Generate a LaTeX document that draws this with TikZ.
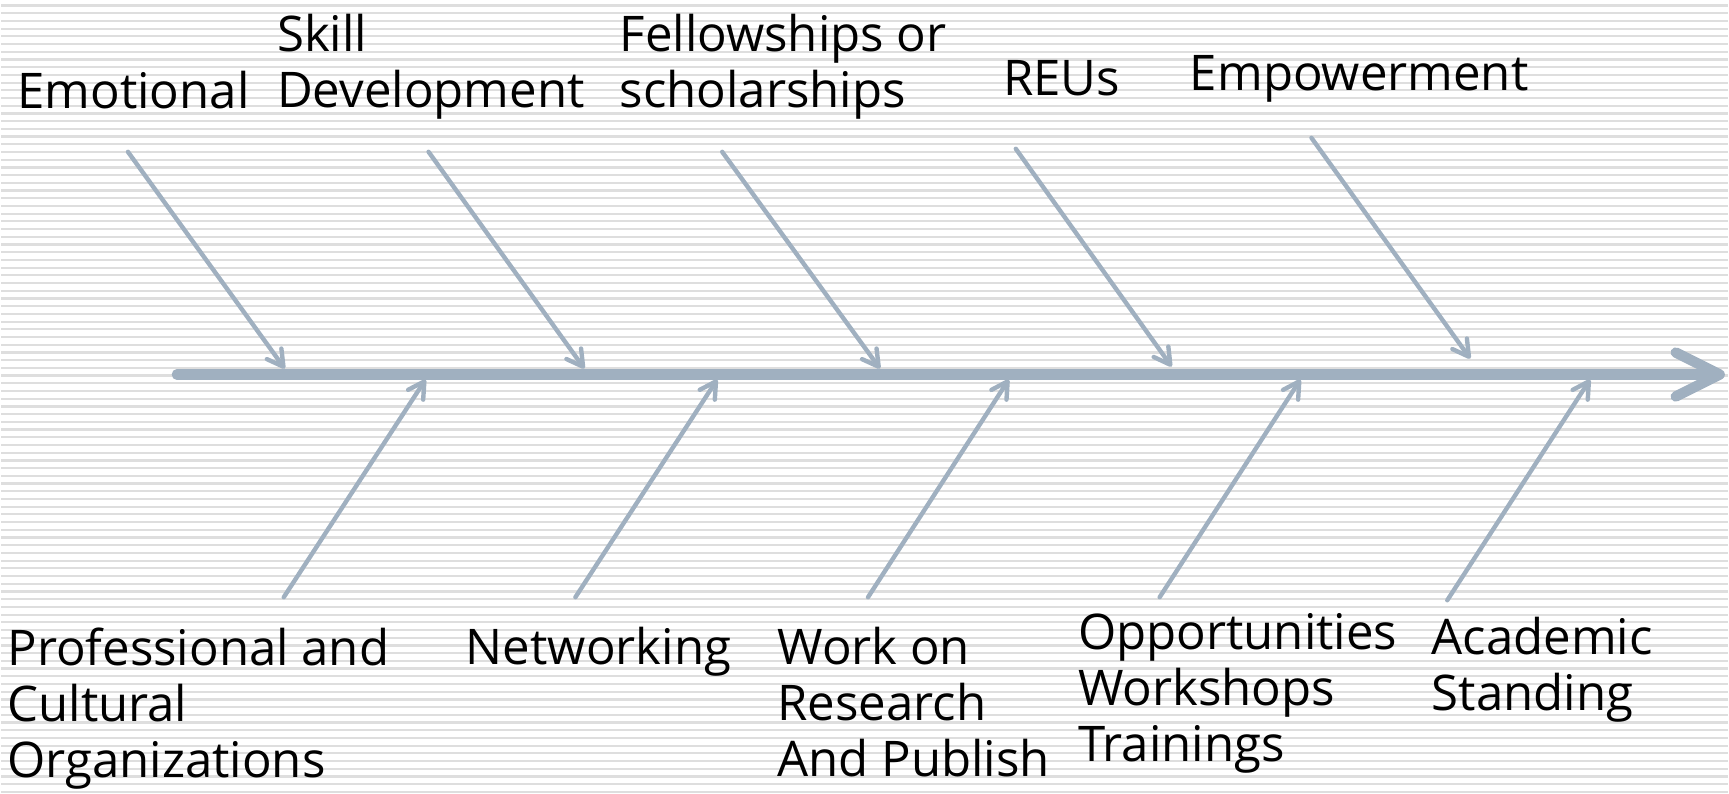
\documentclass[tikz,border=0pt]{standalone}
\usepackage{fontspec}
\setmainfont{Open Sans}
\usetikzlibrary{arrows.meta}
\definecolor{bonecol}{RGB}{160,176,192}
\definecolor{stripecol}{RGB}{222,222,222}

\begin{document}
\begin{tikzpicture}[x=0.5pt,y=-0.5pt,
    cause/.style={anchor=north west,inner sep=0pt,align=left,font=\fontsize{24.6}{28}\selectfont},
    bone/.style={bonecol,line width=2.2pt,line cap=round,-{Straight Barb[length=8pt,width=9pt,round]}},
    spine/.style={bonecol,line width=5.2pt,line cap=round,-{Straight Barb[length=22pt,width=22pt,round]}}]
			\fill[white] (0,0) rectangle (1729,791);
			\foreach \k in {0,...,102}
				\draw[stripecol,line width=1.1pt] (0,5.5+7.72*\k) -- (1729,5.5+7.72*\k);
			\useasboundingbox (0,0) rectangle (1729,791);
			\node[cause] (emo) at (16,71) {Emotional};
			\node[cause] (skill) at (276,14) {Skill\\Development};
			\node[cause] (fellow) at (619,14) {Fellowships or\\scholarships};
			\node[cause] (reu) at (1003,60) {REUs};
			\node[cause] (empow) at (1190,55) {Empowerment};
			\node[cause] (prof) at (6,628) {Professional and\\Cultural\\Organizations};
			\node[cause] (netw) at (465,628) {Networking};
			\node[cause] (work) at (777,628) {Work on\\Research\\And Publish};
			\node[cause] (oppo) at (1078,614) {Opportunities\\Workshops\\Trainings};
			\node[cause] (acad) at (1432,618) {Academic\\Standing};
			\coordinate (spine-l) at (176,375);
			\coordinate (spine-r) at (1726,375);
			\coordinate (emo-a) at (127,152);
			\coordinate (emo-b) at (284,369);
			\coordinate (skill-a) at (428,152);
			\coordinate (skill-b) at (584,369);
			\coordinate (fellow-a) at (722,152);
			\coordinate (fellow-b) at (880,369);
			\coordinate (reu-a) at (1016,149);
			\coordinate (reu-b) at (1172,367);
			\coordinate (empow-a) at (1312,138);
			\coordinate (empow-b) at (1471,359);
			\coordinate (prof-a) at (283,598);
			\coordinate (prof-b) at (425,380);
			\coordinate (netw-a) at (575,598);
			\coordinate (netw-b) at (717,380);
			\coordinate (work-a) at (868,598);
			\coordinate (work-b) at (1009,380);
			\coordinate (oppo-a) at (1160,598);
			\coordinate (oppo-b) at (1301,380);
			\coordinate (acad-a) at (1448,601);
			\coordinate (acad-b) at (1591,380);
			\draw[spine] (spine-l) -- (spine-r);
			\draw[bone] (emo-a) -- (emo-b);
			\draw[bone] (skill-a) -- (skill-b);
			\draw[bone] (fellow-a) -- (fellow-b);
			\draw[bone] (reu-a) -- (reu-b);
			\draw[bone] (empow-a) -- (empow-b);
			\draw[bone] (prof-a) -- (prof-b);
			\draw[bone] (netw-a) -- (netw-b);
			\draw[bone] (work-a) -- (work-b);
			\draw[bone] (oppo-a) -- (oppo-b);
			\draw[bone] (acad-a) -- (acad-b);
		\end{tikzpicture}
\end{document}
